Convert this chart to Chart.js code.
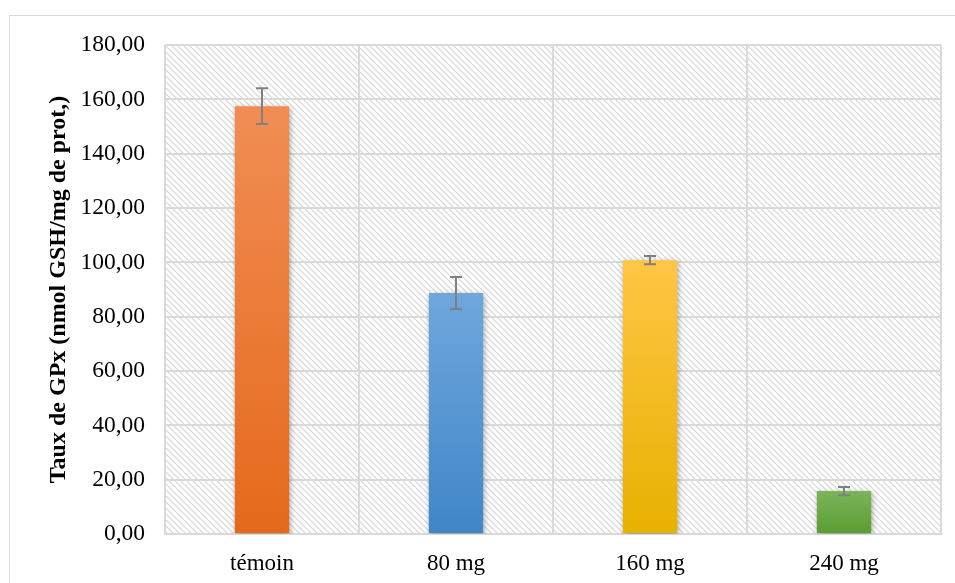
<!DOCTYPE html>
<html>
<head>
<meta charset="utf-8">
<script src="https://cdn.jsdelivr.net/npm/chart.js@4/dist/chart.umd.min.js"></script>
<style>
  html, body { margin: 0; padding: 0; background: #fff; overflow: hidden; }
  #wrap { position: relative; width: 955px; height: 583px; overflow: hidden; }
  #frame { position: absolute; left: 9px; top: 15px; width: 960px; height: 590px; border: 1px solid #d9d9d9; box-sizing: border-box; }
  canvas { position: absolute; left: 0; top: 0; }
</style>
</head>
<body>
<div id="wrap">
  <div id="frame"></div>
  <canvas id="chart" width="955" height="583"></canvas>
</div>
<script>
const categories = ['témoin', '80 mg', '160 mg', '240 mg'];
const values = [157.5, 88.7, 100.8, 15.8];
const errors = [6.6, 5.9, 1.5, 1.5];
const topColors = ['#f18d54', '#6fa7dd', '#ffc545', '#7bb55a'];
const bottomColors = ['#e5691b', '#3f86c8', '#e8b100', '#5b9d33'];
const axisTitle = 'Taux de GPx (nmol GSH/mg de prot,)';

function makeHatch() {
  const c = document.createElement('canvas');
  c.width = 6; c.height = 6;
  const g = c.getContext('2d');
  g.strokeStyle = '#d6d6d6';
  g.lineWidth = 1.2;
  g.beginPath();
  g.moveTo(-1, -1); g.lineTo(7, 7);
  g.moveTo(-1, 5); g.lineTo(1, 7);
  g.moveTo(5, -1); g.lineTo(7, 1);
  g.stroke();
  return c;
}

const hatchPlugin = {
  id: 'hatch',
  beforeDraw(chart) {
    const { ctx, chartArea: a } = chart;
    ctx.save();
    ctx.fillStyle = ctx.createPattern(makeHatch(), 'repeat');
    ctx.fillRect(a.left, a.top, a.right - a.left, a.bottom - a.top);
    ctx.restore();
  }
};

const shadowPlugin = {
  id: 'barShadow',
  beforeDatasetsDraw(chart) {
    const ctx = chart.ctx;
    ctx.save();
    ctx.shadowColor = 'rgba(0,0,0,0.35)';
    ctx.shadowBlur = 6;
    ctx.shadowOffsetX = 1;
    ctx.shadowOffsetY = 2;
  },
  afterDatasetsDraw(chart) {
    chart.ctx.restore();
  }
};

const errorPlugin = {
  id: 'errorBars',
  afterDatasetsDraw(chart) {
    const { ctx, scales } = chart;
    const meta = chart.getDatasetMeta(0);
    ctx.save();
    ctx.strokeStyle = '#808080';
    ctx.lineWidth = 2;
    meta.data.forEach((bar, i) => {
      const x = bar.x;
      const yHi = scales.y.getPixelForValue(values[i] + errors[i]);
      const yLo = scales.y.getPixelForValue(values[i] - errors[i]);
      ctx.beginPath();
      ctx.moveTo(x, yHi); ctx.lineTo(x, yLo);
      ctx.moveTo(x - 6, yHi); ctx.lineTo(x + 6, yHi);
      ctx.moveTo(x - 6, yLo); ctx.lineTo(x + 6, yLo);
      ctx.stroke();
    });
    ctx.restore();
  }
};

new Chart(document.getElementById('chart'), {
  type: 'bar',
  data: {
    labels: categories,
    datasets: [{
      data: values,
      backgroundColor(context) {
        const chart = context.chart;
        const a = chart.chartArea;
        if (!a) return topColors[context.dataIndex];
        const i = context.dataIndex;
        const y = chart.scales.y;
        const g = chart.ctx.createLinearGradient(0, y.getPixelForValue(values[i]), 0, y.getPixelForValue(0));
        g.addColorStop(0, topColors[i]);
        g.addColorStop(1, bottomColors[i]);
        return g;
      },
      borderWidth: 0,
      categoryPercentage: 1,
      barPercentage: 0.28
    }]
  },
  options: {
    responsive: false,
    animation: false,
    layout: { padding: { left: 0, top: 45, right: 14, bottom: 0 } },
    plugins: { legend: { display: false }, tooltip: { enabled: false } },
    scales: {
      x: {
        grid: { offset: true, color: '#d9d9d9', lineWidth: 2, drawTicks: false },
        border: { color: '#d9d9d9', width: 2 },
        ticks: { color: '#000', padding: 16, font: { family: 'Liberation Serif', size: 23 } },
        afterFit(scale) { scale.height = 49; }
      },
      y: {
        min: 0, max: 180,
        grid: { color: '#d9d9d9', lineWidth: 2, drawTicks: false },
        border: { display: false },
        ticks: {
          stepSize: 20,
          color: '#000',
          padding: 20,
          font: { family: 'Liberation Serif', size: 23.5 },
          callback: v => v.toFixed(2).replace('.', ',')
        },
        title: {
          display: true,
          text: axisTitle,
          color: '#000',
          padding: { top: 44, bottom: 6 },
          font: { family: 'Liberation Serif', size: 24, weight: 'bold' }
        },
        afterFit(scale) { scale.width = 165; }
      }
    }
  },
  plugins: [hatchPlugin, shadowPlugin, errorPlugin]
});
</script>
</body>
</html>
